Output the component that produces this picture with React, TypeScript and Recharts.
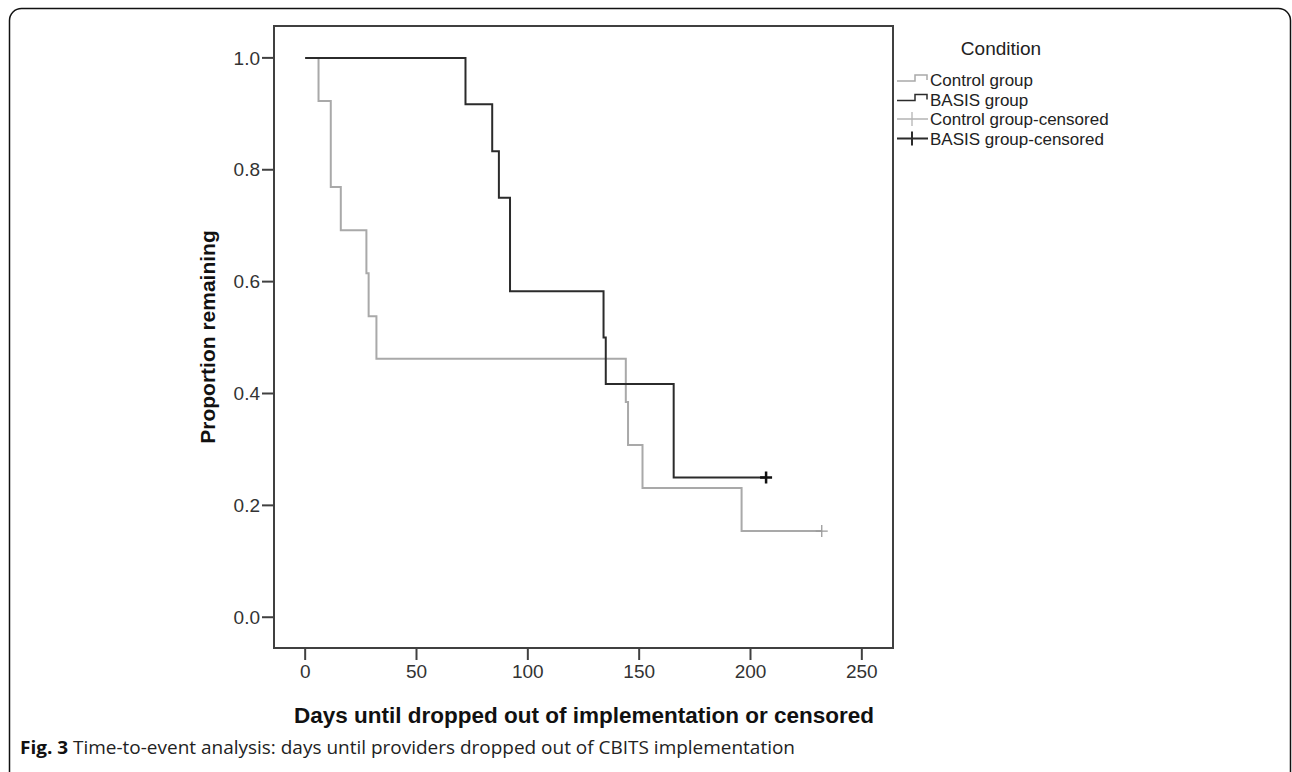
import {
  ComposedChart,
  Line,
  ReferenceArea,
  Scatter,
  XAxis,
  YAxis,
} from "recharts";

// Kaplan-Meier steps (day, proportion remaining)
const controlDays = [0, 6, 11.5, 16, 27.5, 28.5, 32, 144, 145, 151.5, 196, 232];
const controlSurv = [1.0, 0.923, 0.769, 0.692, 0.615, 0.538, 0.462, 0.385, 0.308, 0.231, 0.154, 0.154];

const basisDays = [0, 72, 84, 87, 92, 134, 135, 165.5, 207];
const basisSurv = [1.0, 0.917, 0.833, 0.75, 0.583, 0.5, 0.417, 0.25, 0.25];

const controlCensored = [{ day: 232, surv: 0.154 }];
const basisCensored = [{ day: 207, surv: 0.25 }];

const xTicks = [0, 50, 100, 150, 200, 250];
const yTicks = [0, 0.2, 0.4, 0.6, 0.8, 1.0];
const X_DOMAIN: [number, number] = [-14, 264];
const Y_DOMAIN: [number, number] = [-0.055, 1.057];

const legendItems = [
  { label: "Control group", kind: "step", color: "#a9a9a9" },
  { label: "BASIS group", kind: "step", color: "#2b2b2b" },
  { label: "Control group-censored", kind: "cross", color: "#b4b4b4" },
  { label: "BASIS group-censored", kind: "cross", color: "#2b2b2b" },
];

const CONTROL = "#a9a9a9";
const BASIS = "#2b2b2b";
const AXIS = "#404040";
const FONT = "'Liberation Sans', Arial, sans-serif";

const controlData = controlDays.map((day, i) => ({ day, surv: controlSurv[i] }));
const basisData = basisDays.map((day, i) => ({ day, surv: basisSurv[i] }));

function crossShape(color: string, width: number) {
  return (props: any) => {
    const { cx, cy } = props;
    return (
      <path
        d={`M${cx - 6},${cy}H${cx + 6}M${cx},${cy - 6}V${cy + 6}`}
        stroke={color}
        strokeWidth={width}
        fill="none"
      />
    );
  };
}

function Overlay() {
  return (
    <svg
      width={1292}
      height={772}
      style={{ position: "absolute", left: 0, top: 0, pointerEvents: "none" }}
    >
      <rect x={9.5} y={8.5} width={1281} height={790} rx={12} fill="none" stroke="#111" strokeWidth={1.5} />
      <text
        x={207}
        y={337}
        transform="rotate(-90 207 337)"
        textAnchor="middle"
        dominantBaseline="central"
        fontFamily={FONT}
        fontWeight="bold"
        fontSize={21}
        fill="#111"
      >
        Proportion remaining
      </text>
      <text x={584} y={723} textAnchor="middle" fontFamily={FONT} fontWeight="bold" fontSize={22.5} fill="#111">
        Days until dropped out of implementation or censored
      </text>
      <text x={1001} y={55} textAnchor="middle" fontFamily={FONT} fontSize={19} fill="#222">
        Condition
      </text>
      {legendItems.map((it, i) => {
        const cy = 80 + i * 19.5;
        return (
          <g key={it.label}>
            {it.kind === "step" ? (
              <path
                d={`M897,${cy + 1}H915V${cy - 5}H927V${cy}`}
                stroke={it.color}
                strokeWidth={1.5}
                fill="none"
              />
            ) : (
              <path
                d={`M897,${cy}H928M912,${cy - 7}V${cy + 7}`}
                stroke={it.color}
                strokeWidth={i === 3 ? 2 : 1.3}
                fill="none"
              />
            )}
            <text x={930} y={cy + 6} fontFamily={FONT} fontSize={17} fill="#222">
              {it.label}
            </text>
          </g>
        );
      })}
      <text
        x={20}
        y={754}
        fontFamily="'Open Sans', sans-serif"
        fontSize={18.5}
        fill="#222"
        textLength={775}
        lengthAdjust="spacingAndGlyphs"
      >
        <tspan fontWeight="bold" fill="#111">Fig. 3</tspan>
        <tspan> Time-to-event analysis: days until providers dropped out of CBITS implementation</tspan>
      </text>
    </svg>
  );
}

export default function App() {
  return (
    <div
      style={{
        position: "absolute",
        left: 0,
        top: 0,
        width: 1292,
        height: 772,
        overflow: "hidden",
        background: "#fff",
      }}
    >
      <ComposedChart
        width={1292}
        height={772}
        margin={{ top: 26, right: 399, left: 214, bottom: 84 }}
      >
        <XAxis
          type="number"
          dataKey="day"
          domain={X_DOMAIN}
          ticks={xTicks}
          allowDataOverflow
          height={40}
          axisLine={false}
          tickLine={{ stroke: AXIS, strokeWidth: 2 }}
          tickSize={12}
          tickMargin={5}
          tick={{ fontFamily: FONT, fontSize: 19, fill: "#333" }}
        />
        <YAxis
          type="number"
          domain={Y_DOMAIN}
          ticks={yTicks}
          allowDataOverflow
          width={60}
          axisLine={false}
          tickLine={{ stroke: AXIS, strokeWidth: 2 }}
          tickSize={12}
          tickMargin={2}
          tickFormatter={(v: number) => v.toFixed(1)}
          tick={{ fontFamily: FONT, fontSize: 19, fill: "#333" }}
        />
        <ReferenceArea
          x1={X_DOMAIN[0]}
          x2={X_DOMAIN[1]}
          y1={Y_DOMAIN[0]}
          y2={Y_DOMAIN[1]}
          fill="none"
          fillOpacity={0}
          stroke={AXIS}
          strokeWidth={2}
          ifOverflow="visible"
        />
        <Line
          data={controlData}
          dataKey="surv"
          type="stepAfter"
          stroke={CONTROL}
          strokeWidth={2}
          dot={false}
          activeDot={false}
          isAnimationActive={false}
        />
        <Line
          data={basisData}
          dataKey="surv"
          type="stepAfter"
          stroke={BASIS}
          strokeWidth={2}
          dot={false}
          activeDot={false}
          isAnimationActive={false}
        />
        <Scatter
          data={controlCensored}
          dataKey="surv"
          shape={crossShape("#9a9a9a", 1.3)}
          isAnimationActive={false}
        />
        <Scatter
          data={basisCensored}
          dataKey="surv"
          shape={crossShape("#111", 2.5)}
          isAnimationActive={false}
        />
      </ComposedChart>
      <Overlay />
    </div>
  );
}
